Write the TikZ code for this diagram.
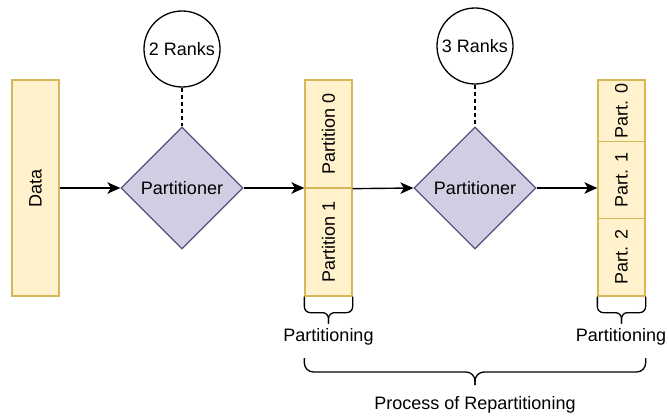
\documentclass[tikz,border=0pt]{standalone}
\usepackage{fontspec}
\setmainfont{Liberation Sans}
\usepackage{graphicx}
\usetikzlibrary{shapes.geometric,arrows.meta,calc}
\definecolor{boxfill}{HTML}{FFF2CC}
\definecolor{boxdraw}{HTML}{D6B656}
\definecolor{dfill}{HTML}{D0CEE2}
\definecolor{ddraw}{HTML}{56517E}
\begin{document}
\begin{tikzpicture}[x=1pt,y=-1pt,
 box/.style={draw=boxdraw,fill=boxfill,line width=1.3pt,minimum width=47pt,inner sep=0pt},
 dec/.style={diamond,draw=ddraw,fill=dfill,line width=1.3pt,minimum width=122pt,minimum height=122pt,inner sep=0pt},
 rank/.style={circle,draw,line width=1.3pt,minimum size=76pt,inner sep=0pt},
 arr/.style={line width=1.4pt,-{Stealth[length=13pt,width=11.5pt,inset=3.5pt]}},
 brc/.style={line width=1.3pt,rounded corners=6pt},
 bigbrc/.style={line width=1.3pt,rounded corners=9pt},
 lbl/.style={inner sep=0pt,anchor=base},
 font=\fontsize{18}{21}\selectfont]
\useasboundingbox (0,0) rectangle (668,417);

% data
\node[box,minimum height=216pt] (data) at (35.5,188) {\rotatebox{90}{Data}};

% first partitioner
\node[rank] (r1) at (182,49) {2 Ranks};
\node[dec] (d1) at (182,188) {Partitioner};
\draw[line width=1.3pt,dash pattern=on 4pt off 3pt] (r1) -- (d1);

% first partitioning
\node[box,minimum height=108pt] (pa0) at (328.5,134) {\rotatebox{90}{Partition 0}};
\node[box,minimum height=108pt] (pa1) at (328.5,242) {\rotatebox{90}{Partition 1}};

% second partitioner
\node[rank] (r2) at (475,46) {3 Ranks};
\node[dec] (d2) at (475,188) {Partitioner};
\draw[line width=1.3pt,dash pattern=on 4pt off 3pt] (r2) -- (d2);

% second partitioning
\node[box,minimum height=61.7pt] (pb0) at (621.5,110.85) {\rotatebox{90}{Part. 0}};
\node[box,minimum height=76.6pt] (pb1) at (621.5,180) {\rotatebox{90}{Part. 1}};
\node[box,minimum height=77.7pt] (pb2) at (621.5,257.15) {\rotatebox{90}{Part. 2}};

% arrows
\draw[arr] (data) -- (d1);
\draw[arr] (d1.east) -- (d1.east -| pa0.west);
\draw[arr] (pa0.south east) -- (d2.west);
\draw[arr] (d2.east) -- (d2.east -| pb1.west);

% braces
\coordinate (b1m) at ($(pa1.south)+(0,16)$);
\draw[brc] (pa1.south west) -- ($(pa1.south west)+(0,16)$) -- (b1m) -- ($(pa1.south)+(0,27)$);
\draw[brc] (pa1.south east) -- ($(pa1.south east)+(0,16)$) -- (b1m) -- ($(pa1.south)+(0,27)$);
\node[lbl] (l1) at (328.5,341) {Partitioning};

\coordinate (b2m) at ($(pb2.south)+(0,16)$);
\draw[brc] (pb2.south west) -- ($(pb2.south west)+(0,16)$) -- (b2m) -- ($(pb2.south)+(0,27)$);
\draw[brc] (pb2.south east) -- ($(pb2.south east)+(0,16)$) -- (b2m) -- ($(pb2.south)+(0,27)$);
\node[lbl] (l2) at (621,341) {Partitioning};

\coordinate (bl) at (pa1.west |- 0,358);
\coordinate (br) at (pb2.east |- 0,358);
\coordinate (bm) at ($(bl)!0.5!(br)+(0,14)$);
\draw[bigbrc] (bl) -- ($(bl)+(0,14)$) -- (bm) -- ($(bm)+(0,13)$);
\draw[bigbrc] (br) -- ($(br)+(0,14)$) -- (bm) -- ($(bm)+(0,13)$);
\node[lbl] (l3) at (475,409) {Process of Repartitioning};
\end{tikzpicture}
\end{document}
